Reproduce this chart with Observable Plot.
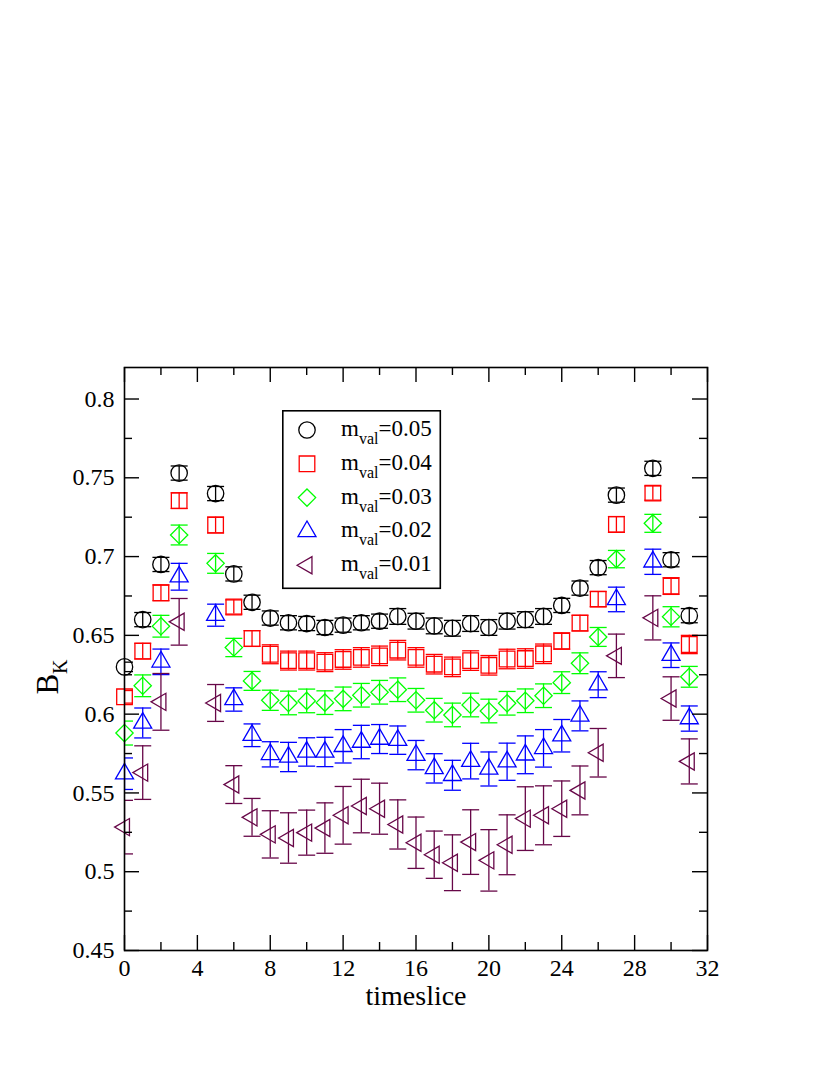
<!DOCTYPE html>
<html>
<head>
<meta charset="utf-8">
<script src="https://cdn.jsdelivr.net/npm/d3@7"></script>
<script src="https://cdn.jsdelivr.net/npm/@observablehq/plot@0.6"></script>
<style>
  body { margin: 0; background: #fff; overflow: hidden; }
  #wrap { position: relative; width: 830px; height: 1075px; font-family: "Liberation Serif", "Times New Roman", serif; }
  #wrap svg text { font-family: "Liberation Serif", "Times New Roman", serif; }
</style>
</head>
<body>
<div id="wrap"></div>
<script>
// ---------------- data ----------------
const timeslices = d3.range(0, 32);
const seriesLabels = ["0.05", "0.04", "0.03", "0.02", "0.01"];

const bk05 = [0.630, 0.660, 0.695, 0.753, null, 0.740, 0.689, 0.671, 0.661, 0.658, 0.6575, 0.655, 0.6565, 0.658, 0.659, 0.662,
              0.659, 0.656, 0.6545, 0.6575, 0.655, 0.659, 0.660, 0.662, 0.669, 0.680, 0.693, 0.739, null, 0.756, 0.698, 0.6625];
const err05 = [0.003, 0.0045, 0.0045, 0.0045, null, 0.0045, 0.0045, 0.0045, 0.0045, 0.0045, 0.0045, 0.0045, 0.0045, 0.0045, 0.0045, 0.005,
               0.005, 0.005, 0.005, 0.005, 0.005, 0.005, 0.005, 0.005, 0.0045, 0.0045, 0.0045, 0.0045, null, 0.0045, 0.0045, 0.0045];

const bk04 = [0.611, 0.640, 0.677, 0.7355, null, 0.720, 0.668, 0.648, 0.638, 0.634, 0.634, 0.633, 0.6347, 0.636, 0.637, 0.6406,
              0.636, 0.6317, 0.630, 0.634, 0.631, 0.635, 0.6353, 0.6383, 0.6464, 0.6578, 0.673, 0.7204, null, 0.7403, 0.6813, 0.6442];
const err04 = [0.004, 0.005, 0.005, 0.005, null, 0.005, 0.0045, 0.005, 0.006, 0.006, 0.006, 0.006, 0.0062, 0.0062, 0.0062, 0.0062,
               0.0062, 0.0062, 0.0062, 0.0062, 0.0062, 0.0062, 0.0062, 0.0062, 0.0052, 0.005, 0.0048, 0.005, null, 0.0045, 0.0053, 0.0058];

const bk03 = [0.588, 0.618, 0.6558, 0.7137, null, 0.6957, 0.6423, 0.6211, 0.6088, 0.6071, 0.6084, 0.6073, 0.6097, 0.612, 0.6139, 0.6155,
              0.6088, 0.6025, 0.5995, 0.6058, 0.602, 0.6069, 0.6085, 0.6117, 0.620, 0.6323, 0.649, 0.6984, null, 0.7211, 0.6618, 0.6237];
const err03 = [0.0076, 0.0069, 0.0069, 0.0063, null, 0.0063, 0.0058, 0.006, 0.0064, 0.0075, 0.0075, 0.0075, 0.0075, 0.0075, 0.0075, 0.0075,
               0.0075, 0.0075, 0.0075, 0.0075, 0.0075, 0.0075, 0.0075, 0.0075, 0.0069, 0.0066, 0.006, 0.0055, null, 0.0057, 0.0064, 0.0066];

const bk02 = [0.5622, 0.5944, 0.6332, 0.6872, null, 0.6628, 0.6093, 0.5866, 0.5745, 0.5728, 0.576, 0.576, 0.5796, 0.5823, 0.5842, 0.5835,
              0.574, 0.5656, 0.5612, 0.5702, 0.5652, 0.5698, 0.5742, 0.5783, 0.5863, 0.5989, 0.6187, 0.6728, null, 0.6967, 0.6374, 0.5972];
const err02 = [0.010, 0.0095, 0.0081, 0.0085, null, 0.007, 0.0074, 0.0072, 0.008, 0.0093, 0.009, 0.0093, 0.0106, 0.0106, 0.0092, 0.009,
               0.0093, 0.0093, 0.0095, 0.0113, 0.0108, 0.0118, 0.012, 0.0119, 0.0103, 0.0095, 0.0082, 0.0078, null, 0.008, 0.0078, 0.008];

const bk01 = [0.5283, 0.5629, 0.6078, 0.6586, null, 0.6071, 0.5553, 0.5345, 0.5237, 0.5214, 0.5248, 0.5277, 0.5358, 0.5417, 0.540, 0.530,
              0.5184, 0.5108, 0.5057, 0.5188, 0.5072, 0.5171, 0.5337, 0.5358, 0.540, 0.5516, 0.5755, 0.637, null, 0.6611, 0.6099, 0.570];
const err01 = [0.017, 0.017, 0.018, 0.0148, null, 0.0117, 0.012, 0.012, 0.015, 0.016, 0.0143, 0.016, 0.0183, 0.017, 0.0162, 0.0156,
               0.0163, 0.015, 0.0177, 0.0205, 0.0195, 0.019, 0.0202, 0.0187, 0.0176, 0.0155, 0.0154, 0.0138, null, 0.014, 0.0138, 0.0143];

const xMajorTicks = [0, 4, 8, 12, 16, 20, 24, 28, 32];
const xMinorTicks = [2, 6, 10, 14, 18, 22, 26, 30];
const yMajorTicks = [0.45, 0.5, 0.55, 0.6, 0.65, 0.7, 0.75, 0.8];
const yMinorTicks = [0.475, 0.525, 0.575, 0.625, 0.675, 0.725, 0.775];
const xTickLabels = ["0", "4", "8", "12", "16", "20", "24", "28", "32"];
const yTickLabels = ["0.45", "0.5", "0.55", "0.6", "0.65", "0.7", "0.75", "0.8"];

// ---------------- styles ----------------
const FONT = "Liberation Serif, Times New Roman, serif";
const W = 830, H = 1075;
const mL = 124, mR = 123, mT = 367, mB = 125;
const FW = W - mL - mR, FH = H - mT - mB;
const MAJ = 15, MIN = 8;
const SW = 1.3;

const styles = [
  {vals: bk05, errs: err05, color: "#000000", plotSym: "circle",    d3Sym: d3.symbolCircle,    r: 8.2, rotate: 0},
  {vals: bk04, errs: err04, color: "#ff0000", plotSym: "square",    d3Sym: d3.symbolSquare,    r: 8.8, rotate: 0},
  {vals: bk03, errs: err03, color: "#00ff00", plotSym: "diamond2",  d3Sym: d3.symbolDiamond2,  r: 7.8, rotate: 0},
  {vals: bk02, errs: err02, color: "#0000ff", plotSym: "triangle2", d3Sym: d3.symbolTriangle2, r: 8.6, rotate: 0},
  {vals: bk01, errs: err01, color: "#670748", plotSym: "triangle2", d3Sym: d3.symbolTriangle2, r: 8.2, rotate: -90}
];

const series = styles.map((s, i) => ({
  ...s,
  label: seriesLabels[i],
  data: timeslices.filter(t => s.vals[t] != null).map(t => ({t, y: s.vals[t], e: s.errs[t]}))
}));

// horizontal line symbol for error-bar caps (half-width = r px)
const capSymbol = {
  draw(ctx, size) { const w = Math.sqrt(size / Math.PI); ctx.moveTo(-w, 0); ctx.lineTo(w, 0); }
};

const marks = [];
for (const s of series) {
  marks.push(Plot.ruleX(s.data, {x: "t", y1: d => d.y - d.e, y2: d => d.y + d.e, stroke: s.color, strokeWidth: SW, clip: true}));
  marks.push(Plot.dot(s.data, {x: "t", y: d => d.y + d.e, symbol: capSymbol, r: 8.5, fill: "none", stroke: s.color, strokeWidth: SW, clip: true}));
  marks.push(Plot.dot(s.data, {x: "t", y: d => d.y - d.e, symbol: capSymbol, r: 8.5, fill: "none", stroke: s.color, strokeWidth: SW, clip: true}));
  marks.push(Plot.dot(s.data, {x: "t", y: "y", symbol: s.plotSym, r: s.r, rotate: s.rotate, fill: "none", stroke: s.color, strokeWidth: SW}));
}

// inward ticks on all four sides
const tickStyle = {stroke: "black", strokeWidth: 1.4};
marks.push(Plot.ruleX(xMajorTicks, {x: d => d, insetTop: FH - MAJ, ...tickStyle}));
marks.push(Plot.ruleX(xMinorTicks, {x: d => d, insetTop: FH - MIN, ...tickStyle}));
marks.push(Plot.ruleX(xMajorTicks, {x: d => d, insetBottom: FH - MAJ, ...tickStyle}));
marks.push(Plot.ruleX(xMinorTicks, {x: d => d, insetBottom: FH - MIN, ...tickStyle}));
marks.push(Plot.ruleY(yMajorTicks, {y: d => d, insetRight: FW - MAJ, ...tickStyle}));
marks.push(Plot.ruleY(yMinorTicks, {y: d => d, insetRight: FW - MIN, ...tickStyle}));
marks.push(Plot.ruleY(yMajorTicks, {y: d => d, insetLeft: FW - MAJ, ...tickStyle}));
marks.push(Plot.ruleY(yMinorTicks, {y: d => d, insetLeft: FW - MIN, ...tickStyle}));

// tick labels (as text marks positioned by the scales)
marks.push(Plot.text(xMajorTicks, {x: d => d, text: (d, i) => xTickLabels[i], frameAnchor: "bottom", lineAnchor: "top", dy: 8, fontSize: 24, fontFamily: FONT, fill: "black"}));
marks.push(Plot.text(yMajorTicks, {y: d => d, text: (d, i) => yTickLabels[i], frameAnchor: "left", textAnchor: "end", dx: -10, fontSize: 24, fontFamily: FONT, fill: "black"}));
marks.push(Plot.text(["timeslice"], {text: d => d, frameAnchor: "bottom", lineAnchor: "top", dy: 35, fontSize: 28, fontFamily: FONT, fill: "black"}));
marks.push(Plot.frame({stroke: "black", strokeWidth: 1.6}));

const chart = Plot.plot({
  width: W, height: H,
  marginLeft: mL, marginRight: mR, marginTop: mT, marginBottom: mB,
  x: {domain: [0, 32], axis: null},
  y: {domain: [0.45, 0.82], axis: null},
  style: {fontFamily: FONT, fontSize: "24px", color: "black", background: "white", overflow: "visible"},
  marks
});
document.getElementById("wrap").appendChild(chart);

// y-axis label B_K (rotated)
const svg = d3.select(chart);
const yl = svg.append("text")
  .attr("transform", `translate(58,677) rotate(-90)`)
  .attr("font-family", FONT)
  .attr("font-size", 31).attr("fill", "black");
yl.append("tspan").text("B");
yl.append("tspan").attr("font-size", 20).attr("dy", 9).text("K");

// legend box
const leg = d3.select("#wrap").append("svg")
  .style("position", "absolute").style("left", "282px").style("top", "410px")
  .attr("width", 160).attr("height", 180);
leg.append("rect").attr("x", 0.8).attr("y", 0.8).attr("width", 157.5).attr("height", 177.5)
  .attr("fill", "white").attr("stroke", "black").attr("stroke-width", 1.6);
series.forEach((s, i) => {
  const cy = 20 + i * 33.8;
  leg.append("path")
    .attr("transform", `translate(25,${cy}) rotate(${s.rotate})`)
    .attr("d", d3.symbol(s.d3Sym, Math.PI * s.r * s.r)())
    .attr("fill", "none").attr("stroke", s.color).attr("stroke-width", SW);
  const t = leg.append("text").attr("x", 59).attr("y", cy + 6)
    .attr("font-family", FONT).attr("font-size", 23).attr("fill", "black");
  t.append("tspan").text("m");
  t.append("tspan").attr("font-size", 16).attr("dy", 8).text("val");
  t.append("tspan").attr("dy", -8).text("=" + s.label);
});
</script>
</body>
</html>
